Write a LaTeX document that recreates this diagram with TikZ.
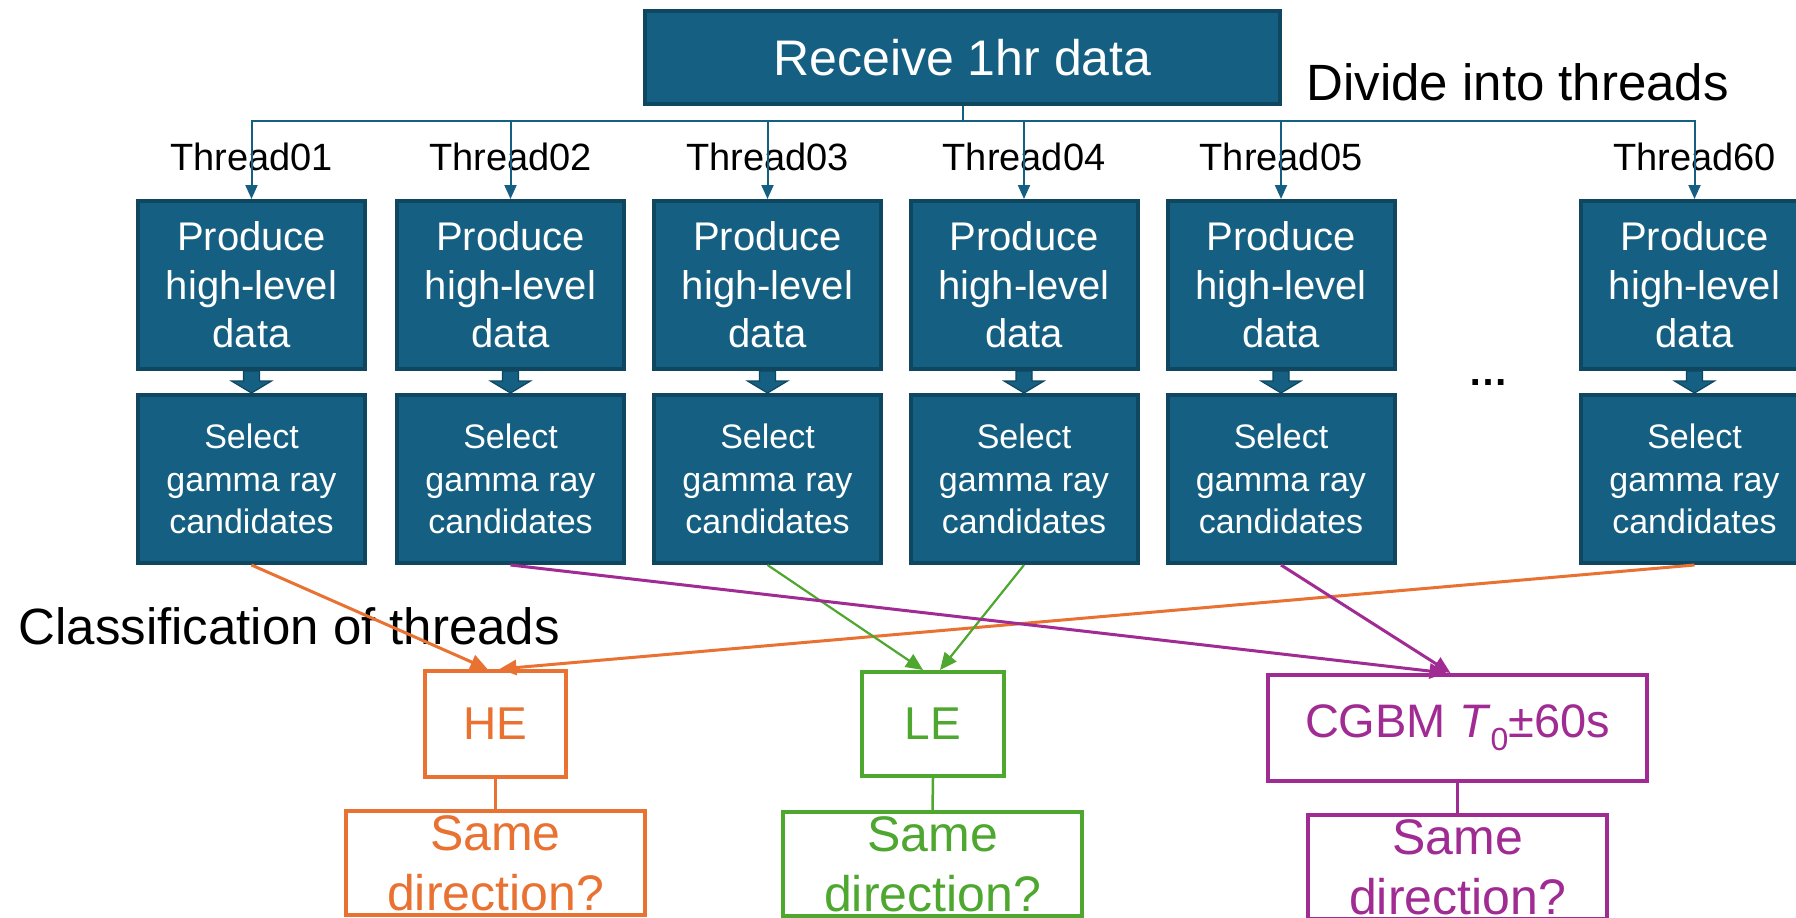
\documentclass[tikz,border=0pt]{standalone}
\usepackage{fontspec}
\setmainfont{Liberation Sans}
\usetikzlibrary{arrows.meta,calc}
\definecolor{accblue}{HTML}{156082}
\definecolor{accbluedk}{HTML}{0F4761}
\definecolor{accorange}{HTML}{E97132}
\definecolor{accgreen}{HTML}{4EA72E}
\definecolor{accpurple}{HTML}{A02B93}
\newcommand\fsz[2]{\fontsize{#1pt}{#2pt}\selectfont}

\begin{document}
\begin{tikzpicture}[x=1pt,y=-1pt,
  bluebox/.style={draw=accbluedk, fill=accblue, line width=4pt, inner sep=0pt,
    text=white, align=center},
  stagebox/.style={bluebox, minimum width=227pt, minimum height=168pt},
  blkarrow/.style={draw=accbluedk, fill=accblue, line width=1.2pt, line join=miter},
  threadline/.style={draw=accblue, line width=2pt, -{Triangle[width=12pt,length=14pt]}},
  threadlabel/.style={anchor=base, font=\fsz{38}{44}},
  caption/.style={anchor=base west, font=\fsz{51}{60}},
  classbox/.style={draw=#1, text=#1, line width=4pt, inner sep=0pt, fill=white,
    align=center, font=\fsz{46}{54}},
  askbox/.style={draw=#1, text=#1, line width=4pt, inner sep=0pt, fill=white,
    align=center, minimum width=299pt, minimum height=104pt, font=\fsz{50}{60}},
  link/.style={draw=#1, line width=3pt, -{Triangle[width=15pt,length=17pt]}},
  stub/.style={draw=#1, line width=2.5pt}
]
\clip (0,0) rectangle (1796,918);
\fill[white] (0,0) rectangle (1796,918);

% source block and captions
\node[bluebox, minimum width=635pt, minimum height=93pt, font=\fsz{50}{60}]
  (R) at (962.5,57.5) {Receive 1hr data};
\node[caption] (divide) at (1303,100) {Divide into threads};
\node[caption] (classify) at (15,644) {Classification of threads};
\coordinate (bus) at (962.5,121);

% one column per thread
\foreach \n/\x in {01/251.5, 02/510.5, 03/767.5, 04/1024, 05/1281, 60/1694.5} {
  \node[stagebox, font=\fsz{40}{48.5}] (P\n) at (\x,285) {Produce\\high-level\\data};
  \node[stagebox, font=\fsz{34}{42.5}] (S\n) at (\x,479) {Select\\gamma ray\\candidates};
  \node[threadlabel] (T\n) at (\x,170) {Thread\n};
  \draw[threadline] (R.south) -- (bus) -| (P\n.north);
  \draw[blkarrow] ($(P\n.south)+(-8,0)$) -- ($(P\n.south)+(8,0)$)
    -- ($(P\n.south)+(8,10)$) -- ($(P\n.south)+(20,10)$) -- (S\n.north)
    -- ($(P\n.south)+(-20,10)$) -- ($(P\n.south)+(-8,10)$) -- cycle;
}
\node[font=\bfseries\fsz{40}{40}] (dots) at (1488,383) {…};

% thread classes
\node[classbox=accorange, minimum width=141pt, minimum height=106pt] (HE) at (495.5,724) {HE};
\node[classbox=accgreen, minimum width=142pt, minimum height=104pt] (LE) at (933,724) {LE};
\node[classbox=accpurple, minimum width=379pt, minimum height=106pt, font=\fsz{47}{54}]
  (CG) at (1457.5,728) {CGBM \textit{T}\raisebox{-0.28em}{\fsz{32}{32}0}±60s};

\node[askbox=accorange] (HEq) at (495.5,863) {Same\\direction?};
\node[askbox=accgreen] (LEq) at (932.5,864) {Same\\direction?};
\node[askbox=accpurple] (CGq) at (1457.5,867) {Same\\direction?};

\draw[stub=accorange] (HE.south) -- (HEq.north);
\draw[stub=accgreen] (LE.south) -- (LEq.north);
\draw[stub=accpurple] (CG.south) -- (CGq.north);

% routing of threads to classes
\draw[link=accorange] (S01.south) -- ([xshift=-8pt]HE.north);
\draw[link=accorange] (S60.south) -- ([xshift=4pt]HE.north);
\draw[link=accgreen, line width=2.2pt] (S03.south) -- ([xshift=-10pt]LE.north);
\draw[link=accgreen, line width=2.2pt] (S04.south) -- ([xshift=7pt]LE.north);
\draw[link=accpurple] (S02.south) -- ([xshift=-11pt]CG.north);
\draw[link=accpurple] (S05.south) -- ([xshift=-7pt]CG.north);
\end{tikzpicture}
\end{document}
